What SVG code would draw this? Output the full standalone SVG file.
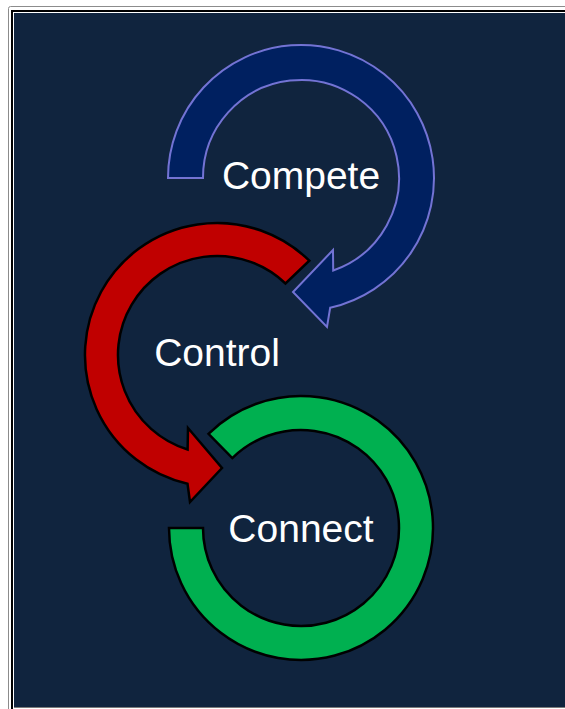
<svg xmlns="http://www.w3.org/2000/svg" width="565" height="709" viewBox="0 0 565 709">
  <style>
    .lbl { font-family: "Liberation Sans", Arial, sans-serif; font-size: 39px; fill: #ffffff; text-anchor: middle; }
    .blue { fill: #002060; stroke: #7373D4; stroke-width: 2; stroke-linejoin: miter; }
    .red { fill: #C00000; stroke: #000000; stroke-width: 2.5; stroke-linejoin: miter; }
    .green { fill: #00B050; stroke: #000000; stroke-width: 2.5; stroke-linejoin: miter; }
  </style>
  <g id="frame">
    <rect x="0" y="0" width="565" height="709" fill="#ffffff"/>
    <rect x="8.5" y="6.5" width="620" height="740" rx="2" fill="none" stroke="#8c8c8c" stroke-width="1"/>
    <rect x="12" y="11" width="620" height="740" fill="#ffffff" stroke="#000000" stroke-width="2"/>
    <rect x="14" y="13" width="560" height="694" fill="#10243E"/>
    <line x1="14" y1="707.5" x2="565" y2="707.5" stroke="#7a7a7a" stroke-width="1"/>
  </g>
  <g id="compete">
    <path class="blue" d="M 168,178 A 133 133 0 1 1 330.2,307.7 L 327,327 L 293,292 L 333,250 L 333.2,270.5 A 98 98 0 1 0 203,178 Z"/>
    <text class="lbl" x="301" y="189">Compete</text>
  </g>
  <g id="control">
    <path class="red" d="M 309.3,260.7 A 132 132 0 1 0 187.5,483.7 L 190,502 L 222,468 L 188,428 L 187.6,449.5 A 99 99 0 1 1 285.5,283.5 Z"/>
    <text class="lbl" x="217" y="366">Control</text>
  </g>
  <g id="connect">
    <path class="green" d="M 169,528 A 132 132 0 1 0 208.5,433.8 L 232.3,458.1 A 98 98 0 1 1 203,528 Z"/>
    <text class="lbl" x="301" y="542">Connect</text>
  </g>
  <g id="connectors"/>
</svg>
